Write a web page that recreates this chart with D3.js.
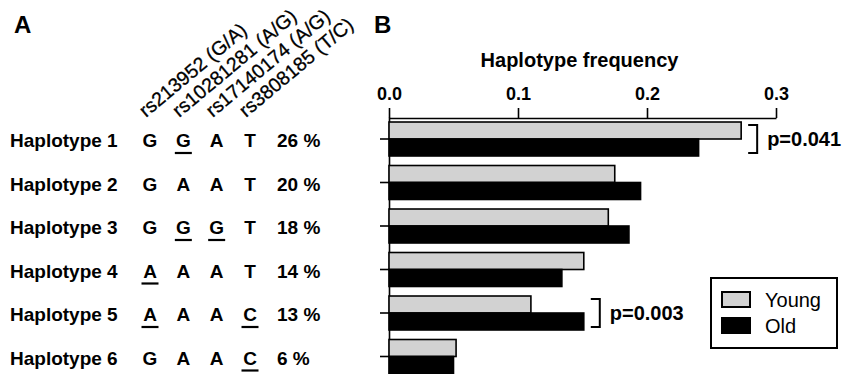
<!DOCTYPE html>
<html>
<head>
<meta charset="utf-8">
<script src="https://cdn.jsdelivr.net/npm/d3@7"></script>
<style>
  body { margin: 0; background: #fff; }
  svg { display: block; font-family: "Liberation Sans", Arial, sans-serif; }
</style>
</head>
<body>
<script>
// haplotype names and their frequencies
var haplotypes = ["Haplotype 1", "Haplotype 2", "Haplotype 3", "Haplotype 4", "Haplotype 5", "Haplotype 6"];
var overall = [26, 20, 18, 14, 13, 6];

// snps, major/minor alleles (minor allele gets underlined)
var snps = ["rs213952", "rs10281281", "rs17140174", "rs3808185"];
var majorAllele = ["G", "A", "A", "T"];
var minorAllele = ["A", "G", "G", "C"];

// allele per haplotype, one string per row
var alleles = ["GGAT", "GAAT", "GGGT", "AAAT", "AAAC", "GAAC"];

// frequencies
var young = [0.273, 0.175, 0.170, 0.151, 0.110, 0.052];
var old = [0.240, 0.195, 0.186, 0.134, 0.151, 0.050];
var groups = ["Young", "Old"];
var xTicks = [0, 0.1, 0.2, 0.3];

// significant differences
var pRows = ["Haplotype 1", "Haplotype 5"];
var pLabels = ["p=0.041", "p=0.003"];

var width = 843, height = 374;

var svg = d3.select("body").append("svg")
    .attr("width", width)
    .attr("height", height);

svg.append("rect").attr("width", width).attr("height", height).attr("fill", "#fff");

//row positions shared by both panels
var y = d3.scaleBand()
    .domain(haplotypes)
    .range([117.25, 378.25]);

var ySub = d3.scaleBand()
    .domain(groups)
    .range([0, y.bandwidth()])
    .paddingOuter(0.28);

var x = d3.scaleLinear()
    .domain([0, 0.3])
    .range([389, 776]);

var col = d3.scalePoint()
    .domain(snps)
    .range([150, 250]);

var fill = d3.scaleOrdinal().domain(groups).range(["#d2d2d2", "#000"]);

// panel letters
svg.append("text").attr("x", 14).attr("y", 33).text("A")
    .style("font-size", "24px").style("font-weight", "bold");
svg.append("text").attr("x", 374).attr("y", 33).text("B")
    .style("font-size", "24px").style("font-weight", "bold");

// ---- panel A ----
svg.selectAll(".snpLabel")
    .data(snps)
    .enter()
    .append("text")
    .attr("class", "snpLabel")
    .attr("transform", function(d){
        return "translate(" + (col(d) - 4) + ",118) rotate(-40)";
    })
    .style("font-size", "19.5px")
    .style("stroke", "#000")
    .style("stroke-width", 0.3)
    .text(function(d, i){ return d + " (" + majorAllele[i] + "/" + minorAllele[i] + ")"; });

var rows = svg.selectAll(".row")
    .data(haplotypes)
    .enter()
    .append("g")
    .attr("class", "row")
    .attr("transform", function(d){ return "translate(0," + (y(d) + y.bandwidth() / 2 + 8) + ")"; })
    .style("font-size", "19px")
    .style("font-weight", "bold");

rows.append("text").attr("x", 10).text(function(d){ return d; });

rows.append("text").attr("x", 277).text(function(d, i){ return overall[i] + " %"; });

rows.each(function(d, i){
    var g = d3.select(this);
    snps.forEach(function(s, j){
        var a = alleles[i][j];
        g.append("text")
            .attr("x", col(s))
            .attr("text-anchor", "middle")
            .text(a);
        if (a === minorAllele[j]) {
            g.append("line")
                .attr("x1", col(s) - 8.5).attr("x2", col(s) + 8.5)
                .attr("y1", 6).attr("y2", 6)
                .attr("stroke", "#000").attr("stroke-width", 2.2);
        }
    });
});

// ---- panel B ----
var xAxis = d3.axisTop(x)
    .tickValues(xTicks)
    .tickFormat(d3.format(".1f"))
    .tickSize(10)
    .tickPadding(8)
    .tickSizeOuter(0);

var gx = svg.append("g")
    .attr("transform", "translate(0,118)")
    .call(xAxis);
gx.select(".domain").attr("stroke-width", 1.6);
gx.selectAll(".tick line").attr("stroke-width", 1.6);
gx.selectAll(".tick text")
    .style("font-family", "Liberation Sans, Arial, sans-serif")
    .style("font-size", "18px")
    .style("font-weight", "bold")
    .attr("fill", "#000");

svg.append("text")
    .attr("x", (x.range()[0] + x.range()[1]) / 2 - 3)
    .attr("y", 67)
    .attr("text-anchor", "middle")
    .style("font-size", "20px")
    .style("font-weight", "bold")
    .text("Haplotype frequency");

var yAxis = d3.axisLeft(y)
    .tickSize(9)
    .tickFormat("")
    .tickSizeOuter(0);

var gy = svg.append("g")
    .attr("transform", "translate(389,0)")
    .call(yAxis);
gy.select(".domain").attr("stroke-width", 1.6);
gy.selectAll(".tick line").attr("stroke-width", 1.6);

var barData = [];
haplotypes.forEach(function(h, i){
    barData.push({hap: h, group: "Young", value: young[i]});
    barData.push({hap: h, group: "Old", value: old[i]});
});

svg.selectAll(".bar")
    .data(barData)
    .enter()
    .append("rect")
    .attr("class", "bar")
    .attr("x", x(0))
    .attr("y", function(d){ return y(d.hap) + ySub(d.group); })
    .attr("width", function(d){ return x(d.value) - x(0); })
    .attr("height", ySub.bandwidth())
    .attr("fill", function(d){ return fill(d.group); })
    .attr("stroke", "#000")
    .attr("stroke-width", 1.6);

// p-value brackets
pRows.forEach(function(h, k){
    var i = haplotypes.indexOf(h);
    var bx = x(Math.max(young[i], old[i])) + 7;
    var top = y(h) + ySub("Young") + 3;
    var bottom = y(h) + ySub("Old") + ySub.bandwidth() - 3;
    svg.append("path")
        .attr("d", "M" + bx + "," + top + "H" + (bx + 9) + "V" + bottom + "H" + bx)
        .attr("fill", "none")
        .attr("stroke", "#000")
        .attr("stroke-width", 2);
    svg.append("text")
        .attr("x", bx + 19)
        .attr("y", (top + bottom) / 2 + 7)
        .style("font-size", "20px")
        .style("font-weight", "bold")
        .text(pLabels[k]);
});

// legend
var legend = svg.append("g").attr("transform", "translate(711,278)");
legend.append("rect")
    .attr("width", 126).attr("height", 70)
    .attr("fill", "#fff").attr("stroke", "#000").attr("stroke-width", 2);
groups.forEach(function(gname, i){
    legend.append("rect")
        .attr("x", 11).attr("y", 14 + i * 26)
        .attr("width", 28).attr("height", 15)
        .attr("fill", fill(gname))
        .attr("stroke", "#000").attr("stroke-width", 2);
    legend.append("text")
        .attr("x", 54).attr("y", 29 + i * 26)
        .style("font-size", "20px")
        .text(gname);
});
</script>
</body>
</html>
